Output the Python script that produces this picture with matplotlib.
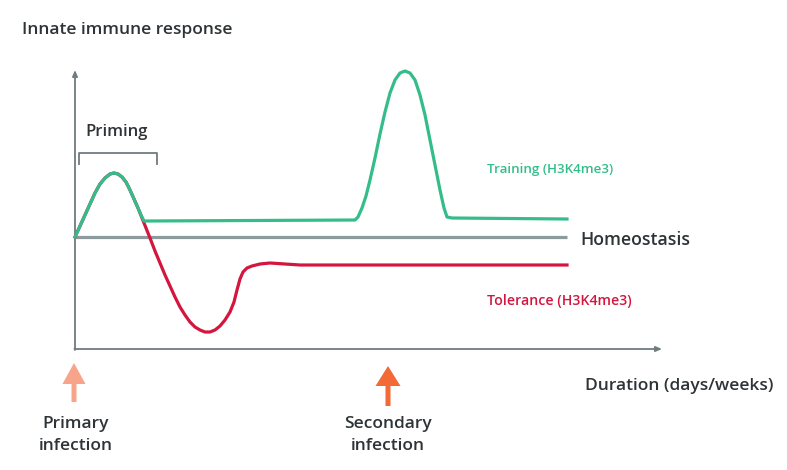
import matplotlib
matplotlib.use("Agg")
import matplotlib.pyplot as plt
from matplotlib.patches import FancyArrow

# Data (time offset from primary infection, response relative to homeostasis)
# as (pixel x - 75, 237 - pixel y)
train_x = [0, 5, 10, 15, 20, 25, 30, 35, 39, 43, 47, 51, 55, 59, 63, 66, 69, 72,
           280, 283, 287, 291, 295, 300, 305, 310, 315, 320, 325, 330, 335, 340,
           345, 350, 355, 360, 365, 369, 372, 377, 492]
train_y = [0, 11, 22, 33, 44, 53, 59, 63, 64, 63, 60, 55, 47, 38, 29, 22, 16, 16,
           17, 20, 29, 41, 57, 79, 103, 125, 144, 157, 164, 166, 164, 157, 142,
           122, 97, 72, 47, 29, 20, 19, 18]

tol_x = [0, 5, 10, 15, 20, 25, 30, 35, 39, 43, 47, 51, 55, 59, 63, 67, 71, 75,
         80, 85, 90, 95, 100, 105, 110, 115, 120, 125, 130, 135, 140, 145, 150,
         155, 159, 162, 165, 168, 172, 177, 185, 195, 210, 225, 492]
tol_y = [0, 11, 22, 33, 44, 53, 59, 63, 64, 63, 60, 55, 47, 38, 29, 19, 9, -1,
         -14, -26, -38, -49, -60, -70, -78, -85, -90, -93, -95, -95, -93, -89,
         -83, -75, -65, -53, -42, -35, -31, -29, -27, -26, -27, -28, -28]

homeo_x = [0, 492]
homeo_y = [0, 0]

green = "#34BD8A"
red = "#D4163F"
gray_line = "#8E9B9D"
axis_col = "#6F7C80"
text_col = "#2E3336"

plt.rcParams['font.family'] = ['Open Sans', 'DejaVu Sans']

fig = plt.figure(figsize=(7.87, 4.70), dpi=100)
ax = fig.add_axes([0, 0, 1, 1])
ax.set_xlim(-75, 712)
ax.set_ylim(237 - 470, 237)
ax.axis("off")

# axes arrows
ax.annotate("", xy=(0, 167), xytext=(0, -113),
            arrowprops=dict(arrowstyle="-|>,head_length=0.35,head_width=0.15",
                            color=axis_col, lw=1.3, shrinkA=0, shrinkB=0))
ax.annotate("", xy=(587, -112), xytext=(-0.6, -112),
            arrowprops=dict(arrowstyle="-|>,head_length=0.35,head_width=0.15",
                            color=axis_col, lw=1.3, shrinkA=0, shrinkB=0))

ax.plot(homeo_x, homeo_y, color=gray_line, lw=2.3, solid_capstyle="butt", zorder=2)
ax.plot(tol_x, tol_y, color=red, lw=2.3, solid_joinstyle="round", zorder=3)
ax.plot(train_x, train_y, color=green, lw=2.3, solid_joinstyle="round", zorder=4)

# priming bracket
ax.plot([4, 4, 82, 82], [73, 84, 84, 73], color=axis_col, lw=1.3)

ax.text(10, 105, "Priming", fontsize=12, fontweight="semibold", color=text_col,
        ha="left", va="center")
ax.text(-53, 207, "Innate immune response", fontsize=12.5, fontweight="semibold",
        color=text_col, ha="left", va="center")
ax.text(412, 68, "Training (H3K4me3)", fontsize=9.6, fontweight="semibold",
        color=green, ha="left", va="center")
ax.text(505, -3, "Homeostasis", fontsize=12.7, fontweight="semibold",
        color=text_col, ha="left", va="center")
ax.text(412, -64, "Tolerance (H3K4me3)", fontsize=10.2, fontweight="semibold",
        color=red, ha="left", va="center")
ax.text(510, -149, "Duration (days/weeks)", fontsize=12.5, fontweight="semibold",
        color=text_col, ha="left", va="center")

# infection arrows
ax.add_patch(FancyArrow(-1, -165, 0, 39,
                        width=5, head_width=23, head_length=21,
                        length_includes_head=True, color="#F8A48A", lw=0))
ax.add_patch(FancyArrow(313, -169, 0, 40,
                        width=5, head_width=25, head_length=20,
                        length_includes_head=True, color="#F26A35", lw=0))

ax.text(1, -198, "Primary\ninfection", fontsize=12.5, fontweight="semibold",
        color=text_col, ha="center", va="center", linespacing=1.45)
ax.text(313, -198, "Secondary\ninfection", fontsize=12.5, fontweight="semibold",
        color=text_col, ha="center", va="center", linespacing=1.45)

fig.savefig("out.png", dpi=100)
